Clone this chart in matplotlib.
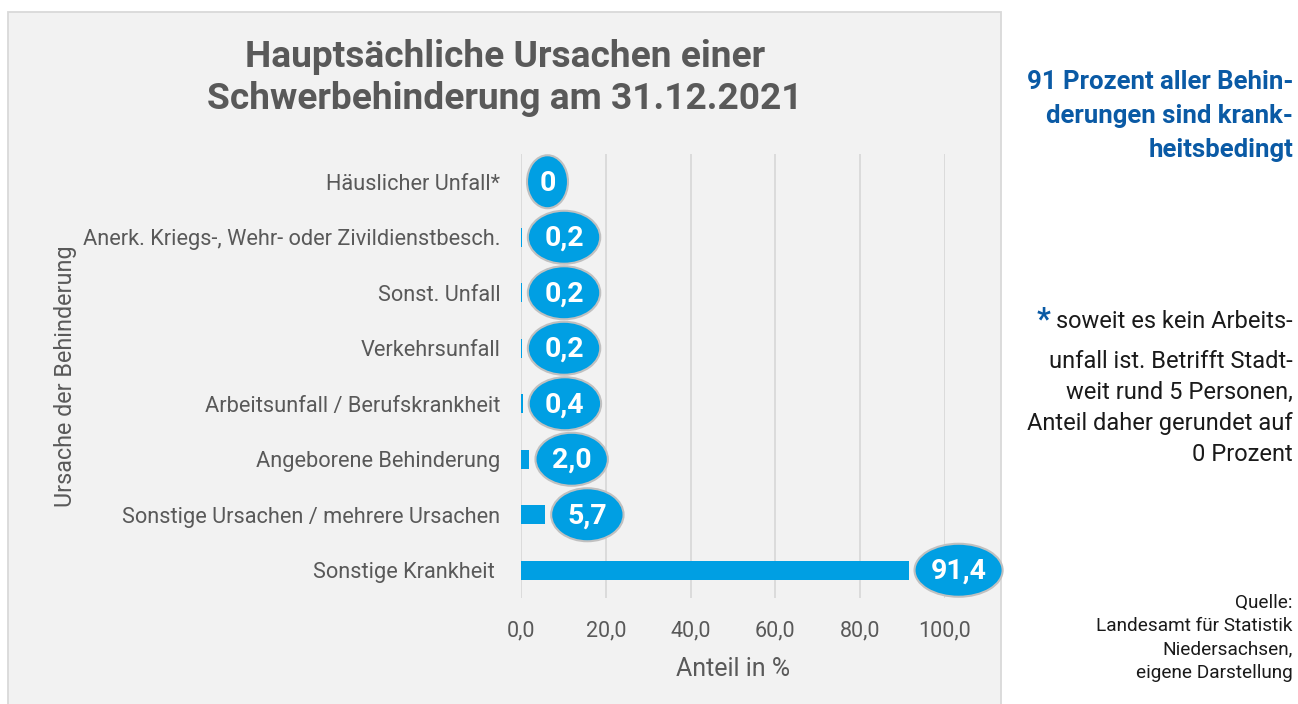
import matplotlib
matplotlib.use('Agg')
import matplotlib.pyplot as plt
from matplotlib.patches import Rectangle, Ellipse
from matplotlib.transforms import ScaledTranslation

# Daten
categories = ['Häuslicher Unfall*',
              'Anerk. Kriegs-, Wehr- oder Zivildienstbesch.',
              'Sonst. Unfall',
              'Verkehrsunfall',
              'Arbeitsunfall / Berufskrankheit',
              'Angeborene Behinderung',
              'Sonstige Ursachen / mehrere Ursachen',
              'Sonstige Krankheit ']
values = [0, 0.2, 0.2, 0.2, 0.4, 2.0, 5.7, 91.4]
xticks = [0, 20, 40, 60, 80, 100]

BLUE = '#009fe3'
GREY = '#595959'
NARROW = ['Liberation Sans Narrow', 'Roboto']
WIDE = ['Roboto', 'DejaVu Sans']

W, H = 1298, 704
fig = plt.figure(figsize=(W / 100, H / 100), dpi=100)
fig.patch.set_facecolor('white')

# grauer Kasten hinter dem Diagramm
panel = Rectangle((8 / W, -0.02), (1001 - 8) / W, 1.02 - 12 / H,
                  transform=fig.transFigure, facecolor='#f2f2f2',
                  edgecolor='#d9d9d9', linewidth=1.3, zorder=-10)
fig.add_artist(panel)

ax = fig.add_axes([521 / W, 1 - 598 / H, (945 - 521) / W, (598 - 154) / H])
ax.set_facecolor('none')

ypos = list(range(len(categories)))
ax.barh(ypos, values, height=0.35, color=BLUE, zorder=2)
ax.set_ylim(len(categories) - 0.5, -0.5)
ax.set_xlim(0, 100)

ax.set_xticks(xticks)
ax.set_xticklabels([f'{t:.1f}'.replace('.', ',') for t in xticks],
                   family=NARROW, fontsize=15.5, color=GREY)
ax.set_yticks(ypos)
ax.set_yticklabels(categories, family=NARROW, fontsize=15.7, color=GREY)
ax.tick_params(axis='both', length=0)
ax.tick_params(axis='x', pad=16)
ax.tick_params(axis='y', pad=15)
ax.grid(axis='x', color='#d9d9d9', linewidth=1.3, zorder=0)
ax.set_axisbelow(True)
for s in ax.spines.values():
    s.set_visible(False)

ax.set_xlabel('Anteil in %', family=NARROW, fontsize=18, color=GREY, labelpad=11)
ax.set_ylabel('Ursache der Behinderung', family=WIDE, fontsize=16.8, color=GREY, labelpad=4)

# Werte in Ellipsen
for i, v in enumerate(values):
    txt = '0' if v == 0 else f'{v:.1f}'.replace('.', ',')
    w = 41 + 15.7 * (len(txt) - 1)
    h = 53
    off = w / 2 + 6
    tr = fig.dpi_scale_trans + ScaledTranslation(v, i, ax.transData)
    ell = Ellipse((off / 100, 0), w / 100, h / 100, transform=tr,
                  facecolor=BLUE, edgecolor='#c0c0c0', linewidth=1.5,
                  zorder=5, clip_on=False)
    ax.add_artist(ell)
    ax.annotate(txt, xy=(v, i), xytext=(off * 0.72, -1), textcoords='offset points',
                ha='center', va='center', color='white', fontsize=20.5,
                fontweight='bold', family=NARROW, zorder=6, annotation_clip=False)

fig.text(505 / W, 1 - 78 / H, 'Hauptsächliche Ursachen einer\nSchwerbehinderung am 31.12.2021',
         ha='center', va='center', fontsize=26.7, fontweight='bold', color=GREY,
         family=WIDE, linespacing=1.2)

# Texte rechts
fig.text(1293 / W, 1 - 116 / H, '91 Prozent aller Behin-\nderungen sind krank-\nheitsbedingt',
         ha='right', va='center', fontsize=18.5, fontweight='bold', color='#0a5aa5',
         family=NARROW, linespacing=1.55)

t1 = fig.text(1293 / W, 1 - 321 / H, 'soweit es kein Arbeits-', ha='right', va='center',
              fontsize=17, color='#1a1a1a', family=NARROW)
ax.annotate('*', xy=(0, 0.55), xycoords=t1, xytext=(-4, 0), textcoords='offset points',
            ha='right', va='center', fontsize=22, fontweight='bold', color='#0a5aa5',
            family=NARROW, annotation_clip=False)
fig.text(1293 / W, 1 - 408 / H,
         'unfall ist. Betrifft Stadt-\nweit rund 5 Personen,\nAnteil daher gerundet auf\n0 Prozent',
         ha='right', va='center', fontsize=17, color='#1a1a1a', family=NARROW,
         linespacing=1.46)

fig.text(1293 / W, 1 - 638 / H,
         'Quelle:\nLandesamt für Statistik\nNiedersachsen,\neigene Darstellung',
         ha='right', va='center', fontsize=13.7, color='#1a1a1a', family=NARROW,
         linespacing=1.37)

fig.savefig('out.png', dpi=100)
